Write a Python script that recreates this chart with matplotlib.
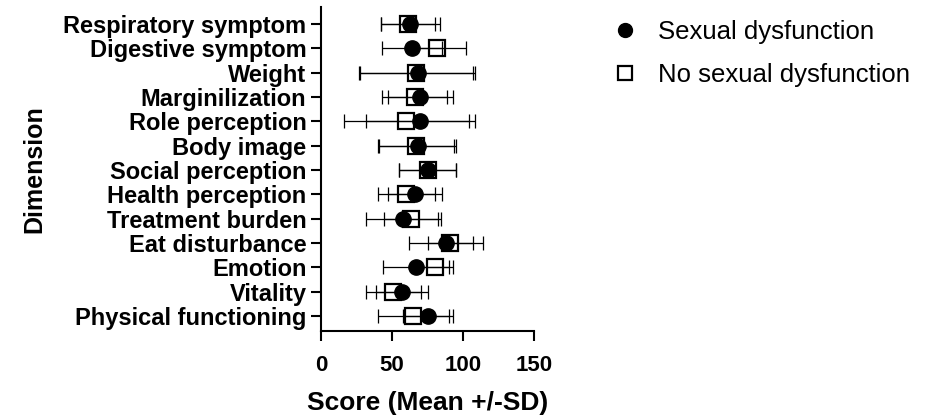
import matplotlib
matplotlib.use("Agg")
import matplotlib.pyplot as plt
from matplotlib.lines import Line2D
import numpy as np

plt.rcParams['font.family'] = ['Liberation Sans', 'DejaVu Sans']

categories = ["Respiratory symptom", "Digestive symptom", "Weight", "Marginilization",
              "Role perception", "Body image", "Social perception", "Health perception",
              "Treatment burden", "Eat disturbance", "Emotion", "Vitality",
              "Physical functioning"]
dys_mean = [63, 64, 68, 70, 70, 68, 75, 66, 58, 88, 67, 57, 75.5]
dys_sd = [21, 21, 40.5, 23, 38.5, 27, 20, 19, 26.5, 26, 23, 18, 17.5]
nodys_mean = [61.5, 82, 67, 66, 60, 67, 75, 60, 63.5, 91, 80, 51, 65]
nodys_sd = [19, 20, 40, 23, 44, 27, 20, 20, 19, 16, 13, 19.5, 25]
xticks = [0, 50, 100, 150]

W, H = 933, 415
fig = plt.figure(figsize=(W / 100, H / 100), dpi=100)
ax = fig.add_axes([321 / W, 1 - 331 / H, (534 - 321) / W, (331 - 7) / H])

n = len(categories)
y = np.arange(n)[::-1]

ax.errorbar(nodys_mean, y, xerr=nodys_sd, fmt='none', ecolor='black',
            elinewidth=0.9, capsize=5, capthick=0.9, zorder=2)
ax.errorbar(dys_mean, y, xerr=dys_sd, fmt='none', ecolor='black',
            elinewidth=0.9, capsize=5, capthick=0.9, zorder=2)
ax.plot(nodys_mean, y, linestyle='none', marker='s', markersize=12,
        markerfacecolor='none', markeredgecolor='black', markeredgewidth=1.6, zorder=3)
ax.plot(dys_mean, y, linestyle='none', marker='o', markersize=11,
        markerfacecolor='black', markeredgecolor='black', zorder=4)

ax.set_xlim(0, 150)
ax.set_ylim(-0.62, n - 1 + 0.7)

for s in ['top', 'right']:
    ax.spines[s].set_visible(False)
for s in ['left', 'bottom']:
    ax.spines[s].set_linewidth(1.5)
ax.tick_params(axis='both', length=7, width=1.5, direction='out', color='black')
ax.tick_params(axis='x', pad=10)
ax.tick_params(axis='y', pad=3.5)

ax.set_xticks(xticks)
ax.set_xticklabels([str(t) for t in xticks])
ax.set_yticks(y)
ax.set_yticklabels(categories)
for lab in ax.get_xticklabels():
    lab.set_fontsize(16)
    lab.set_fontweight('bold')
for lab in ax.get_yticklabels():
    lab.set_fontsize(17)
    lab.set_fontweight('bold')

ax.set_xlabel("Score (Mean +/-SD)", fontsize=19, fontweight='bold')
ax.set_ylabel("Dimension", fontsize=18, fontweight='bold')
ax.xaxis.set_label_coords(0.5, (331 - 391) / 324)
ax.yaxis.set_label_coords((46 - 321) / 213, 0.5)

handles = [Line2D([], [], linestyle='none', marker='o', markersize=10,
                  markerfacecolor='black', markeredgecolor='black'),
           Line2D([], [], linestyle='none', marker='s', markersize=10,
                  markerfacecolor='none', markeredgecolor='black', markeredgewidth=1.6)]
fig.legend(handles, ["Sexual dysfunction", "No sexual dysfunction"],
           loc='upper left', bbox_to_anchor=(589 / W, 1 + 3 / H), frameon=False,
           fontsize=18.5, labelspacing=0.75, handletextpad=0.78, handlelength=1.0)

fig.savefig("out.png", dpi=100)
